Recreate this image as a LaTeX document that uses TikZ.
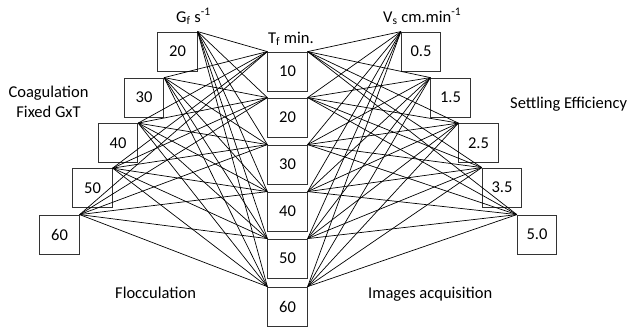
\documentclass[tikz,border=0pt]{standalone}
\usepackage{fontspec}
\setmainfont{Carlito}
\begin{document}
\begin{tikzpicture}[x=1pt,y=-1pt,
  valbox/.style={draw=black!80, line width=0.8pt, minimum width=39.5pt, minimum height=39pt,
    inner sep=0pt, font=\fontsize{16.5}{20}\selectfont},
  lbl/.style={inner sep=0pt, font=\fontsize{16.5}{20}\selectfont},
  link/.style={line width=0.7pt, black}]
\useasboundingbox (0,0) rectangle (630,330);

% Coagulation velocity gradient G_f
\node[valbox] (g20) at (177.5,51.5) {20};
\node[valbox] (g30) at (144,97.5) {30};
\node[valbox] (g40) at (118,143) {40};
\node[valbox] (g50) at (92.5,188) {50};
\node[valbox] (g60) at (59.5,234.5) {60};

% Flocculation time T_f
\node[valbox] (t10) at (287.5,71.5) {10};
\node[valbox] (t20) at (287.5,117.5) {20};
\node[valbox] (t30) at (287.5,164.5) {30};
\node[valbox] (t40) at (287.5,211.5) {40};
\node[valbox] (t50) at (287.5,258.5) {50};
\node[valbox] (t60) at (287.5,306.5) {60};

% Settling velocity V_s
\node[valbox] (v05) at (421,51.5) {0.5};
\node[valbox] (v15) at (450.5,97.5) {1.5};
\node[valbox] (v25) at (478.5,143) {2.5};
\node[valbox] (v35) at (502,187.5) {3.5};
\node[valbox] (v50) at (537,234.5) {5.0};

% every G_f value to every T_f value, every T_f value to every V_s value
\foreach \g in {g20,g30,g40,g50,g60}
  \foreach \t in {t10,t20,t30,t40,t50,t60}
    \draw[link] (\g.north east) -- (\t.north west);
\foreach \v in {v05,v15,v25,v35,v50}
  \foreach \t in {t10,t20,t30,t40,t50,t60}
    \draw[link] (\v.north west) -- (\t.north east);

% headings and stage labels
\node[lbl, anchor=base west] (hg) at (176,22) {G\textsubscript{f} s\textsuperscript{-1}};
\node[lbl, anchor=base west] (ht) at (268,43) {T\textsubscript{f} min.};
\node[lbl, anchor=base west] (hv) at (383,22) {V\textsubscript{s} cm.min\textsuperscript{-1}};
\node[lbl, anchor=base] (coag) at (48.5,97) {Coagulation};
\node[lbl, anchor=base] (fix) at (48.5,117) {Fixed GxT};
\node[lbl, anchor=base west] (settle) at (510,108) {Settling Efficiency};
\node[lbl, anchor=base west] (floc) at (115,298) {Flocculation};
\node[lbl, anchor=base west] (img) at (368,298) {Images acquisition};
\end{tikzpicture}
\end{document}
